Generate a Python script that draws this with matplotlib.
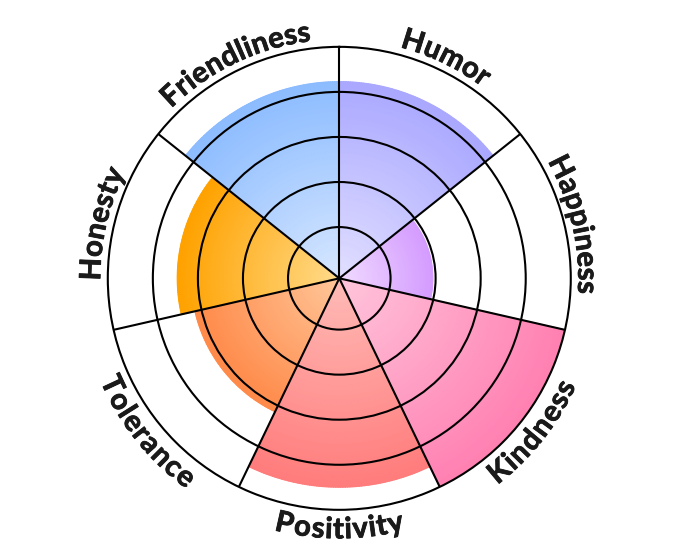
import numpy as np
import matplotlib
matplotlib.use("Agg")
import matplotlib.pyplot as plt
from matplotlib.colors import LinearSegmentedColormap
from matplotlib.font_manager import FontProperties
import matplotlib.patheffects as pe

# data, clockwise from the top
categories = ["Humor", "Happiness", "Kindness", "Positivity", "Tolerance", "Honesty", "Friendliness"]
values = [4.23, 1.94, 5.0, 4.5, 3.15, 3.46, 4.23]
inner_colors = ["#e2e0ff", "#f2dcff", "#ffc6dc", "#ffbcb8", "#ffc79a", "#ffdc8c", "#d8e8ff"]
outer_colors = ["#aaa8ff", "#d49cff", "#ff80b2", "#ff7c7c", "#ff8a4a", "#ffa200", "#8cbcff"]

rmin = -0.138
rmax = 5
n = len(categories)
width = 2 * np.pi / n

fig = plt.figure(figsize=(6.8, 5.57), dpi=100)
ax = fig.add_axes([0.1585, 0.0847, 0.6809, 0.8312], projection="polar")
ax.set_theta_zero_location("N")
ax.set_theta_direction(-1)
ax.set_ylim(rmin, rmax)

for i, (cat, v) in enumerate(zip(categories, values)):
    t0 = i * width
    th = np.linspace(t0, t0 + width, 80)
    rr = np.linspace(rmin, v, 40)
    T, R = np.meshgrid(th, rr)
    C = (R - rmin) / (v - rmin)
    cmap = LinearSegmentedColormap.from_list(cat, [inner_colors[i], outer_colors[i]])
    ax.pcolormesh(T, R, C, cmap=cmap, vmin=0, vmax=1, shading="gouraud", zorder=0.5)

ax.set_rticks([1, 2, 3, 4])
ax.set_yticklabels([])
ax.set_xticks(np.arange(n) * width)
ax.set_xticklabels([])
ax.tick_params(length=0)
ax.set_axisbelow(False)
ax.grid(True, color="black", linewidth=1.5)
ax.spines["polar"].set_color("black")
ax.spines["polar"].set_linewidth(1.5)

# curved labels, one character at a time
fs = 21
spacing = 1.06
fp = FontProperties(family="Lato", weight="bold", size=fs)
renderer = fig.canvas.get_renderer()
unit = 231.5 / (rmax - rmin)
txt_color = "#1a1a1a"


def text_w(s):
    if not s:
        return 0.0
    return renderer.get_text_width_height_descent(s, fp, ismath=False)[0]


for i, cat in enumerate(categories):
    mid = (i + 0.5) * width
    upper = np.sin(np.pi / 2 - mid) > 0
    edges = [text_w(cat[:k]) for k in range(len(cat) + 1)]
    total = edges[-1]
    pos = [spacing * ((edges[k] + edges[k + 1]) / 2 - total / 2) for k in range(len(cat))]
    if upper:
        rb, rarc = 239, 248
    else:
        rb, rarc = 260, 251
    for ch, d in zip(cat, pos):
        if upper:
            th = mid + d / rarc
            rot = -np.degrees(th)
        else:
            th = mid - d / rarc
            rot = 180 - np.degrees(th)
        ax.text(th, rb / unit + rmin, ch, rotation=rot, rotation_mode="anchor",
                ha="center", va="baseline", fontproperties=fp,
                color=txt_color, clip_on=False,
                path_effects=[pe.withStroke(linewidth=0.6, foreground=txt_color)])

fig.savefig("out.png", dpi=100)
